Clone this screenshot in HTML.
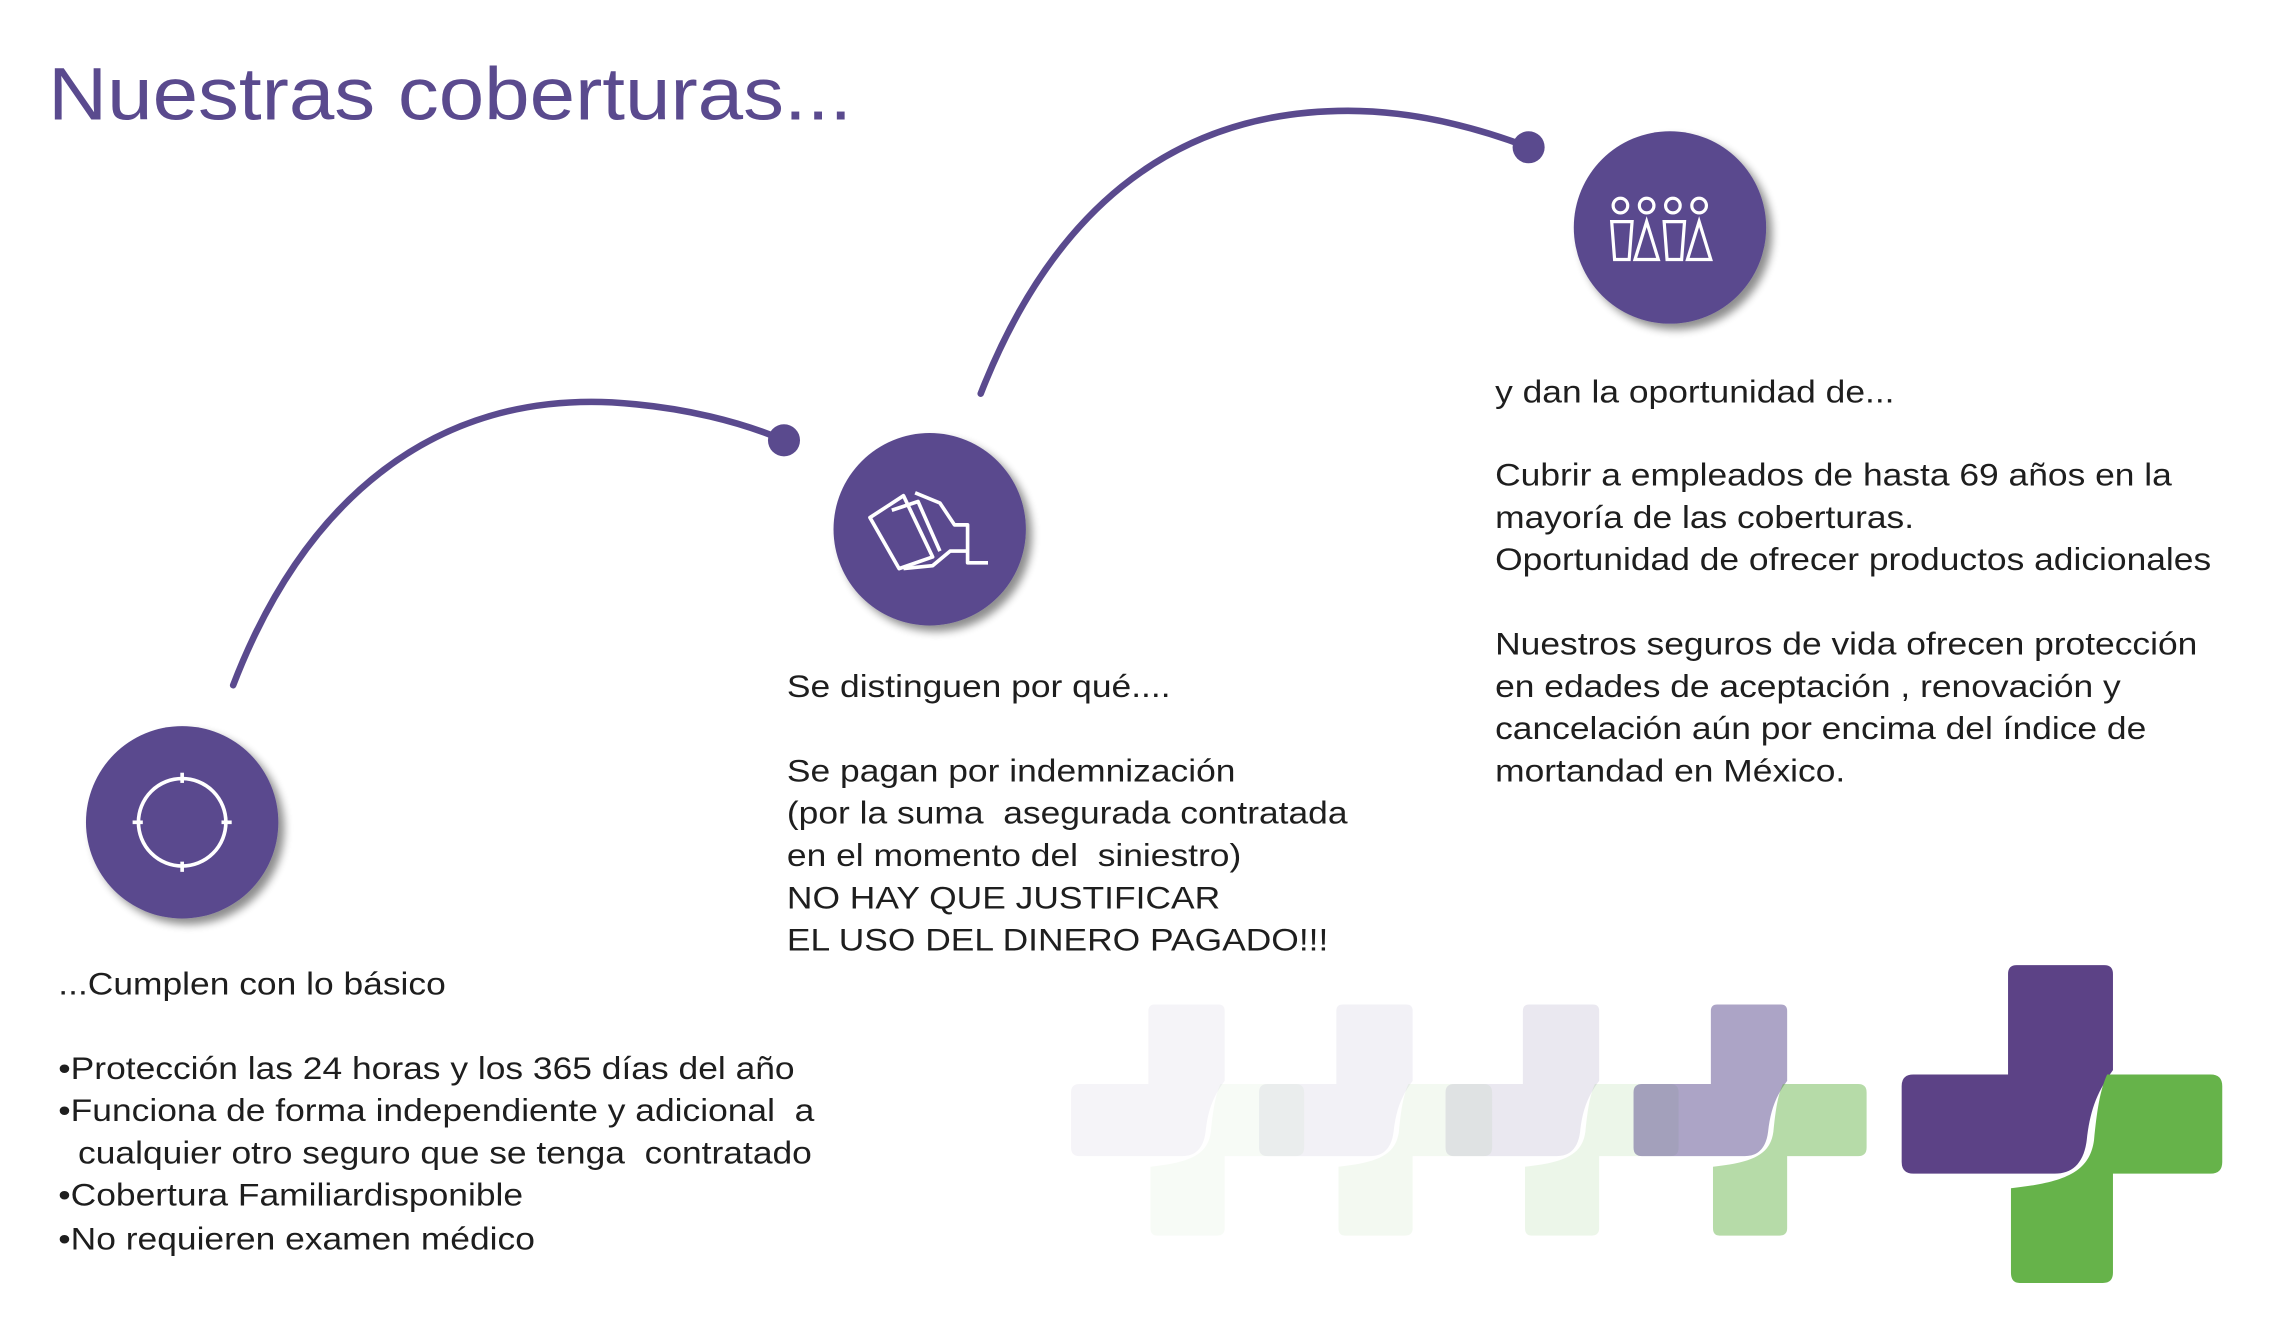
<!DOCTYPE html>
<html><head><meta charset="utf-8"><style>
html,body{margin:0;padding:0;background:#fff;}
svg{display:block;}
text{font-family:"Liberation Sans",sans-serif;fill:#1e1e1e;white-space:pre;}
</style></head><body>
<svg width="2282" height="1318" viewBox="0 0 1566 904" preserveAspectRatio="none" xmlns="http://www.w3.org/2000/svg" xml:space="preserve">
<defs>
<filter id="sh" x="-30%" y="-30%" width="160%" height="160%">
<feGaussianBlur in="SourceAlpha" stdDeviation="3"/>
<feOffset dx="4" dy="4"/>
<feComponentTransfer><feFuncA type="linear" slope="0.45"/></feComponentTransfer>
<feMerge><feMergeNode/><feMergeNode in="SourceGraphic"/></feMerge>
</filter>
<path id="pp" d="M79,0 H139 q6,0 6,6 V72 C133,88 129,102 127,120 C125,136 117,143 105,143 H8 q-8,0 -8,-8 V83 q0,-8 8,-8 H73 V6 q0,-6 6,-6 Z"/>
<path id="gg" d="M141,75 H212 q8,0 8,8 v52 q0,8 -8,8 H145 V211 q0,7 -7,7 H81 q-6,0 -6,-7 V153 C112,149 129,142 132,120 C134,100 136,86 141,75 Z"/>
</defs>

<text transform="translate(33,82) scale(1.1,1)" font-size="51" style="fill:#5a4a8e">Nuestras coberturas...</text>

<path d="M160,470 C210,340 300,270 420,276 C470,279 510,290 538,302" fill="none" stroke="#5a4a8e" stroke-width="4.5" stroke-linecap="round"/>
<circle cx="538" cy="302" r="11" fill="#5a4a8e"/>
<path d="M673,270 C720,150 800,76 925,76 C975,76 1020,90 1049,101" fill="none" stroke="#5a4a8e" stroke-width="4.5" stroke-linecap="round"/>
<circle cx="1049" cy="101" r="11" fill="#5a4a8e"/>

<circle cx="125" cy="564" r="66" fill="#5a4a8e" filter="url(#sh)"/>
<g stroke="#fff" stroke-width="2.5" fill="none">
<circle cx="125" cy="564" r="30"/>
<line x1="125" y1="530" x2="125" y2="537"/><line x1="125" y1="591" x2="125" y2="598"/>
<line x1="91" y1="564" x2="98" y2="564"/><line x1="152" y1="564" x2="159" y2="564"/>
</g>

<circle cx="638" cy="363" r="66" fill="#5a4a8e" filter="url(#sh)"/>
<g stroke="#fff" stroke-width="2.5" fill="none" stroke-linejoin="round">
<path d="M597,355 L620,340 L640,382 L617,390 Z"/>
<path d="M612,350 L630,344 L645,378"/>
<path d="M628,338 L645,345 L655,360 L664,360 L664,386 L678,386"/>
<path d="M620,390 L640,388 L652,378 L664,378"/>
</g>

<circle cx="1146" cy="156" r="66" fill="#5a4a8e" filter="url(#sh)"/>
<g stroke="#fff" stroke-width="2.2" fill="none">
<circle cx="1112" cy="141" r="5"/><circle cx="1130" cy="141" r="5"/><circle cx="1148" cy="141" r="5"/><circle cx="1166" cy="141" r="5"/>
<path d="M1106,152 h14 l-2,26 h-10 Z"/><path d="M1130,152 l8,26 h-16 Z"/>
<path d="M1142,152 h14 l-2,26 h-10 Z"/><path d="M1166,152 l8,26 h-16 Z"/>
</g>

<g font-size="21.5">
<g transform="translate(40,0) scale(1.13,1)">
<text x="0" y="682">...Cumplen con lo básico</text>
<text x="0" y="740">•Protección las 24 horas y los 365 días del año</text>
<text x="0" y="769">•Funciona de forma independiente y adicional  a</text>
<text x="12" y="798">cualquier otro seguro que se tenga  contratado</text>
<text x="0" y="827">•Cobertura Familiardisponible</text>
<text x="0" y="857">•No requieren examen médico</text>
</g>
<g transform="translate(540,0) scale(1.13,1)">
<text x="0" y="478">Se distinguen por qué....</text>
<text x="0" y="536">Se pagan por indemnización</text>
<text x="0" y="565">(por la suma  asegurada contratada</text>
<text x="0" y="594">en el momento del  siniestro)</text>
<text x="0" y="623">NO HAY QUE JUSTIFICAR</text>
<text x="0" y="652">EL USO DEL DINERO PAGADO!!!</text>
</g>
<g transform="translate(1026,0) scale(1.13,1)">
<text x="0" y="276">y dan la oportunidad de...</text>
<text x="0" y="333">Cubrir a empleados de hasta 69 años en la</text>
<text x="0" y="362">mayoría de las coberturas.</text>
<text x="0" y="391">Oportunidad de ofrecer productos adicionales</text>
<text x="0" y="449">Nuestros seguros de vida ofrecen protección</text>
<text x="0" y="478">en edades de aceptación , renovación y</text>
<text x="0" y="507">cancelación aún por encima del índice de</text>
<text x="0" y="536">mortandad en México.</text>
</g>
</g>

<g transform="translate(735,689) scale(0.727)"><use href="#pp" fill="#5a4a8e" fill-opacity="0.06"/><use href="#gg" fill="#66b34a" fill-opacity="0.05"/></g>
<g transform="translate(864,689) scale(0.727)"><use href="#pp" fill="#5a4a8e" fill-opacity="0.08"/><use href="#gg" fill="#66b34a" fill-opacity="0.08"/></g>
<g transform="translate(992,689) scale(0.727)"><use href="#pp" fill="#5a4a8e" fill-opacity="0.13"/><use href="#gg" fill="#66b34a" fill-opacity="0.12"/></g>
<g transform="translate(1121,689) scale(0.727)"><use href="#pp" fill="#5a4a8e" fill-opacity="0.5"/><use href="#gg" fill="#66b34a" fill-opacity="0.48"/></g>
<g transform="translate(1305,662)"><use href="#pp" fill="#5c4286"/><use href="#gg" fill="#66b34a"/></g>
</svg>
</body></html>
